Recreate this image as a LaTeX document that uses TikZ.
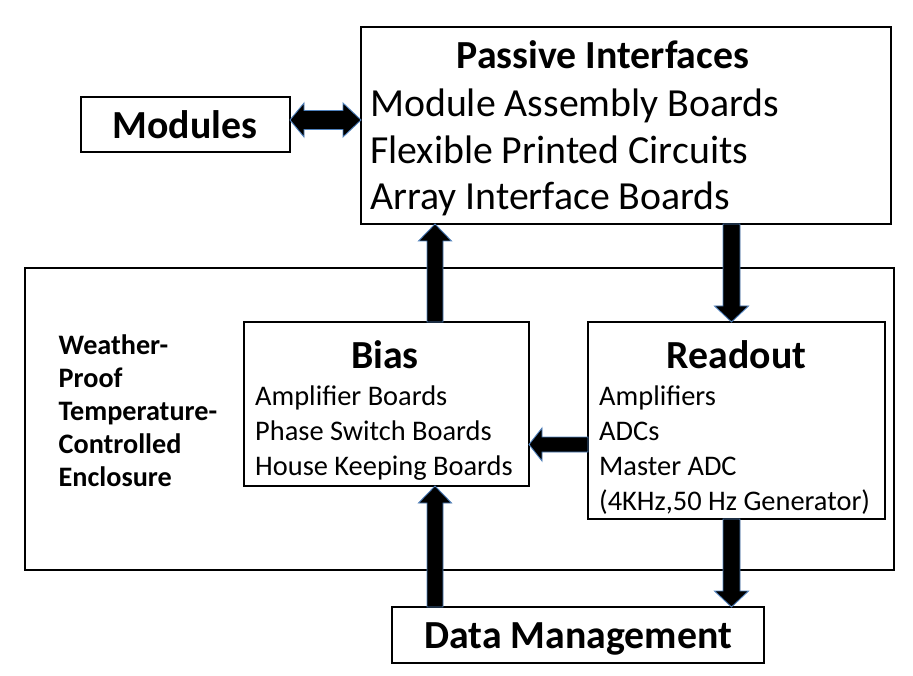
\documentclass[tikz,border=0pt]{standalone}
\usepackage{fontspec}
\setmainfont{Carlito}
\usetikzlibrary{calc}
\definecolor{arrowblue}{RGB}{79,129,189}
\newcommand\varrow[5]{%
  \filldraw[blockarr] ($(#1)+(-#3,0)$) -- ($(#2)+(-#3,#5)$) -- ($(#2)+(-#4,#5)$) -- (#2)
    -- ($(#2)+(#4,#5)$) -- ($(#2)+(#3,#5)$) -- ($(#1)+(#3,0)$) -- cycle;}
\newcommand\harrow[5]{%
  \filldraw[blockarr] ($(#1)+(0,-#3)$) -- ($(#2)+(#5,-#3)$) -- ($(#2)+(#5,-#4)$) -- (#2)
    -- ($(#2)+(#5,#4)$) -- ($(#2)+(#5,#3)$) -- ($(#1)+(0,#3)$) -- cycle;}
\begin{document}
\begin{tikzpicture}[x=1pt,y=-1pt,
  box/.style={draw, line width=2.4pt, inner sep=0pt, outer sep=0pt},
  hd/.style={font=\fontsize{39.8}{47}\selectfont\bfseries, anchor=base, inner sep=0pt},
  bigtxt/.style={font=\fontsize{39.8}{47}\selectfont, anchor=base west, inner sep=0pt},
  smtxt/.style={font=\fontsize{28.4}{35}\selectfont, anchor=base west, inner sep=0pt},
  smbold/.style={font=\fontsize{28.2}{33}\selectfont\bfseries, anchor=base west, inner sep=0pt},
  blockarr/.style={fill=black, draw=arrowblue, line width=0.9pt, line join=miter}]
\useasboundingbox (0,0) rectangle (913,676);

% boxes
\node[box, minimum width=869pt, minimum height=302pt] (encl) at (459.5,419) {};
\node[box, minimum width=530pt, minimum height=197pt] (pass) at (626,125.5) {};
\node[box, minimum width=209pt, minimum height=55pt] (mods) at (185.5,124.5) {};
\node[box, minimum width=285pt, minimum height=164pt] (bias) at (386.5,404) {};
\node[box, minimum width=297pt, minimum height=197pt] (read) at (736.5,420.5) {};
\node[box, minimum width=372pt, minimum height=56pt] (data) at (578,635) {};

% texts
\node[hd] (passT) at (603,68.5) {Passive Interfaces};
\node[bigtxt] (p1) at (370,117) {Module Assembly Boards};
\node[bigtxt] (p2) at (370,163.5) {Flexible Printed Circuits};
\node[bigtxt] (p3) at (370,210) {Array Interface Boards};
\node[hd] (modT) at (185,138.5) {Modules};
\node[hd] (biasT) at (385,368.5) {Bias};
\node[smtxt] (b1) at (255,405.5) {Amplifier Boards};
\node[smtxt] (b2) at (255,440.5) {Phase Switch Boards};
\node[smtxt] (b3) at (255,475.5) {House Keeping Boards};
\node[hd] (readT) at (736.7,368.5) {Readout};
\node[smtxt] (r1) at (599,405.5) {Amplifiers};
\node[smtxt] (r2) at (599,440.5) {ADCs};
\node[smtxt] (r3) at (599,475.5) {Master ADC};
\node[smtxt] (r4) at (599,510) {(4KHz,50 Hz Generator)};
\node[smbold] (w1) at (58.5,354.5) {Weather-};
\node[smbold] (w2) at (58.5,387.5) {Proof};
\node[smbold] (w3) at (58.5,420.5) {Temperature-};
\node[smbold] (w4) at (58.5,453.5) {Controlled};
\node[smbold] (w5) at (58.5,486.5) {Enclosure};
\node[hd] (dataT) at (578,648.5) {Data Management};

% arrow anchor coordinates
\coordinate (ax) at (435,0);
\coordinate (bx) at (731.5,0);
\coordinate (cy) at (0,444.5);
\coordinate (dy) at (0,120);
\coordinate (ub1) at (bias.north -| ax);
\coordinate (ut1) at (pass.south -| ax);
\coordinate (ub2) at (data.north -| ax);
\coordinate (ut2) at (bias.south -| ax);
\coordinate (ds1) at (pass.south -| bx);
\coordinate (dt1) at (read.north -| bx);
\coordinate (ds2) at (read.south -| bx);
\coordinate (dt2) at (data.north -| bx);
\coordinate (ls) at (read.west |- cy);
\coordinate (lt) at (bias.east |- cy);
\coordinate (m1) at (mods.east |- dy);
\coordinate (m2) at (pass.west |- dy);

% block arrows
\varrow{ub1}{ut1}{8}{16.5}{17}
\varrow{ub2}{ut2}{8}{16.5}{17}
\varrow{ds1}{dt1}{8.5}{17}{-16}
\varrow{ds2}{dt2}{8.5}{17}{-16}
\harrow{ls}{lt}{7.5}{16.5}{13}
\filldraw[blockarr] (m1) -- ($(m1)+(14,-17)$) -- ($(m1)+(14,-9.5)$) -- ($(m2)+(-18,-9.5)$)
  -- ($(m2)+(-18,-17)$) -- (m2) -- ($(m2)+(-18,17)$) -- ($(m2)+(-18,9.5)$)
  -- ($(m1)+(14,9.5)$) -- ($(m1)+(14,17)$) -- cycle;
\end{tikzpicture}
\end{document}
